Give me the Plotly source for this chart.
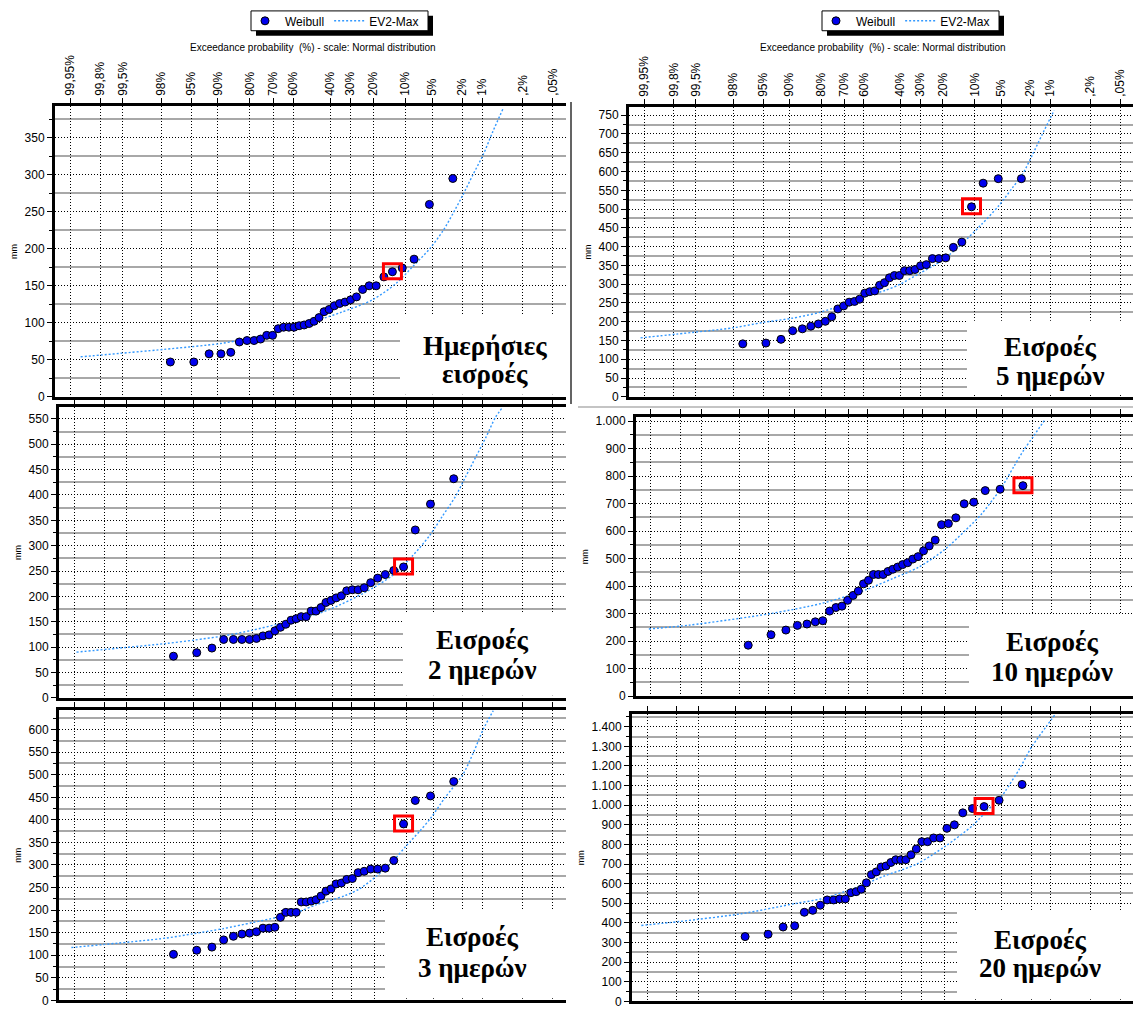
import plotly.graph_objects as go
from statistics import NormalDist

W, H = 1133, 1012
ND = NormalDist()
FONT = "Liberation Sans, Arial, sans-serif"
SERIF = "Liberation Serif, Times New Roman, serif"

# ---------------- data ----------------
EXCEED_TICKS = [99.95, 99.8, 99.5, 98, 95, 90, 80, 70, 60, 40, 30, 20, 10, 5, 2, 1, 0.2, 0.05]
TICK_LABELS = ["99,95%", "99,8%", "99,5%", "98%", "95%", "90%", "80%", "70%", "60%",
               "40%", "30%", "20%", "10%", "5%", "2%", "1%", ",2%", ",05%"]
AXIS_TITLE = "Exceedance probability  (%) - scale: Normal distribution"

# observed maxima (mm), sorted ascending -> Weibull plotting positions
DAILY_MM = [47, 47, 58, 58, 60, 74, 76, 76, 78, 83, 83, 92, 94, 94, 94, 96, 97, 99, 102, 107,
            115, 118, 123, 126, 128, 131, 135, 145, 150, 150, 162, 169, 174, 186, 260, 295]
FIVE_DAY_MM = [141, 143, 153, 176, 181, 188, 194, 201, 213, 234, 242, 252, 254, 260, 276, 280,
               282, 297, 304, 317, 323, 323, 336, 336, 339, 349, 352, 368, 368, 370, 398, 412,
               506, 569, 581, 581]
TWO_DAY_MM = [82, 89, 98, 115, 115, 115, 115, 117, 122, 124, 132, 139, 145, 153, 156, 160, 160,
              171, 171, 178, 188, 192, 197, 201, 211, 213, 213, 217, 227, 236, 243, 251, 258,
              331, 382, 432]
TEN_DAY_MM = [185, 223, 240, 257, 262, 270, 274, 309, 322, 327, 348, 366, 382, 408, 421, 442,
              442, 442, 453, 461, 469, 478, 485, 498, 507, 528, 546, 567, 623, 627, 648, 699,
              705, 747, 752, 765]
THREE_DAY_MM = [102, 111, 118, 134, 142, 147, 149, 152, 160, 160, 162, 184, 195, 195, 195, 218,
                218, 220, 223, 231, 242, 247, 258, 260, 268, 270, 283, 286, 291, 291, 293, 310,
                391, 443, 453, 485]
TWENTY_DAY_MM = [330, 342, 379, 385, 454, 464, 490, 517, 517, 522, 522, 554, 559, 572, 604, 646,
                 660, 685, 690, 708, 722, 722, 722, 747, 777, 814, 814, 833, 833, 882, 900, 961,
                 983, 993, 1025, 1106]

# EV2-Max fitted curves (u = standard normal variate of non-exceedance)
EV2_DAILY_U = [-3.15, -2.02, -1.24, -0.85, -0.50, -0.20, 0.10, 0.40, 0.83, 1.15, 1.38, 1.61, 1.79,
               1.93, 2.06, 2.20, 2.34, 2.47, 2.61]
EV2_DAILY_MM = [54, 64, 72, 79, 87, 95, 104, 114, 131, 153, 176, 200, 224, 248, 272, 300, 327, 358, 389]
EV2_FIVE_U = [-3.34, -2.84, -2.05, -1.65, -1.25, -0.86, -0.51, -0.26, 0.04, 0.23, 0.51, 0.83, 1.15,
              1.38, 1.61, 1.80, 1.94, 2.08, 2.21, 2.38]
EV2_FIVE_MM = [157, 167, 184, 198, 209, 225, 247, 266, 283, 298, 328, 363, 416, 460, 508, 556, 592,
               645, 697, 763]
EV2_TWO_U = [-3.26, -2.82, -2.03, -1.63, -1.24, -0.85, -0.50, -0.21, 0.04, 0.25, 0.71, 1.08, 1.36,
             1.59, 1.77, 1.95, 2.09, 2.23, 2.37, 2.50, 2.60]
EV2_TWO_MM = [90, 96, 107, 114, 122, 133, 145, 155, 165, 176, 208, 241, 280, 319, 358, 397, 436,
              475, 514, 553, 573]
EV2_TEN_U = [-3.32, -2.75, -1.61, -0.91, -0.51, -0.26, 0.09, 0.46, 0.83, 1.11, 1.34, 1.52, 1.61,
             1.80, 1.94, 2.08, 2.24]
EV2_TEN_MM = [244, 258, 300, 336, 366, 388, 426, 468, 533, 600, 660, 720, 751, 835, 895, 947, 1007]
EV2_THREE_U = [-3.33, -2.03, -1.64, -1.24, -0.85, -0.50, -0.23, 0.04, 0.43, 0.63, 0.87, 1.10, 1.27,
               1.46, 1.61, 1.81, 2.05, 2.20, 2.33, 2.47]
EV2_THREE_MM = [117, 138, 148, 159, 172, 184, 195, 212, 232, 247, 276, 310, 342, 375, 404, 450, 500,
                550, 600, 642]
EV2_TWENTY_U = [-3.37, -2.84, -1.99, -1.24, -0.84, -0.34, 0.01, 0.46, 0.86, 1.24, 1.46, 1.61, 1.69,
                1.89, 2.06, 2.26, 2.39]
EV2_TWENTY_MM = [387, 407, 446, 498, 525, 586, 639, 700, 791, 897, 980, 1030, 1070, 1185, 1297,
                 1400, 1464]

PANEL_LABELS = [("Ημερήσιες", "εισροές"), ("Εισροές", "5 ημερών"), ("Εισροές", "2 ημερών"),
                ("Εισροές", "10 ημερών"), ("Εισροές", "3 ημερών"), ("Εισροές", "20 ημερών")]
HIGHLIGHT_RANK = [32, 33, 33, 36, 33, 34]   # 1-based rank of the framed event
SERIES = [DAILY_MM, FIVE_DAY_MM, TWO_DAY_MM, TEN_DAY_MM, THREE_DAY_MM, TWENTY_DAY_MM]
EV2_U = [EV2_DAILY_U, EV2_FIVE_U, EV2_TWO_U, EV2_TEN_U, EV2_THREE_U, EV2_TWENTY_U]
EV2_MM = [EV2_DAILY_MM, EV2_FIVE_MM, EV2_TWO_MM, EV2_TEN_MM, EV2_THREE_MM, EV2_TWENTY_MM]

# ---------------- geometry (pixels) ----------------
GEOM = [
    dict(x0=55, x1=566, yt=104, yb=397.7, ymax=393, dtick=50, box=(400, 315), tx=484.8, ty=(346.7, 375)),
    dict(x0=629, x1=1133, yt=105, yb=397.7, ymax=772, dtick=50, box=(967, 321), tx=1050, ty=(347.3, 376.7)),
    dict(x0=59, x1=566, yt=408.3, yb=701.7, ymax=573, dtick=50, box=(403, 616), tx=482.5, ty=(643, 674)),
    dict(x0=636, x1=1133, yt=418.3, yb=700, ymax=1014, dtick=100, box=(969, 617), tx=1052, ty=(645, 676)),
    dict(x0=59, x1=566, yt=714.3, yb=1007.3, ymax=643, dtick=50, box=(385, 916), tx=472, ty=(943.3, 975)),
    dict(x0=632, x1=1133, yt=718.3, yb=1008.3, ymax=1464, dtick=100, box=(957, 918), tx=1040, ty=(946.7, 975)),
]
XRANGE = [-3.5, 3.47]
LEGEND_BOXES = [(251, 8, 428, 28), (822, 8, 999, 28)]
DOT = "1px,2px"

def px(x):
    return x / W

def py(y):
    return 1 - y / H

tickvals = [ND.inv_cdf(1 - p / 100.0) for p in EXCEED_TICKS]

fig = go.Figure()
layout = {}
shapes = []
annotations = []

for i in range(6):
    g = GEOM[i]
    k = "" if i == 0 else str(i + 1)
    xref, yref = "x" + k, "y" + k
    vals = SERIES[i]
    n = len(vals)
    u = [ND.inv_cdf((r + 1) / (n + 1)) for r in range(n)]
    legend_name = "legend" if i == 0 else ("legend2" if i == 1 else None)

    fig.add_trace(go.Scatter(
        x=EV2_U[i], y=EV2_MM[i], mode="lines", name="EV2-Max",
        line=dict(color="#3399FF", width=1.4, dash="2px,2px", shape="spline", smoothing=0.8),
        xaxis=xref, yaxis=yref, showlegend=legend_name is not None,
        legend=legend_name or "legend", legendrank=2, hoverinfo="skip"))
    fig.add_trace(go.Scatter(
        x=u, y=vals, mode="markers", name="Weibull",
        marker=dict(size=8, color="#0000EE", line=dict(color="black", width=1)),
        xaxis=xref, yaxis=yref, showlegend=legend_name is not None,
        legend=legend_name or "legend", legendrank=1, cliponaxis=False))

    top = i < 2
    layout["xaxis" + k] = dict(
        domain=[px(g["x0"]), px(g["x1"])], range=XRANGE, anchor=yref, side="top",
        tickmode="array", tickvals=tickvals, ticktext=TICK_LABELS, showticklabels=top,
        tickangle=-90, ticks="outside", ticklen=5, tickcolor="black", tickwidth=1,
        tickfont=dict(family=FONT, size=12, color="black"),
        showgrid=True, gridcolor="black", griddash=DOT, gridwidth=1,
        showline=True, linecolor="black", linewidth=2.5, mirror=True, zeroline=False,
        fixedrange=True)
    layout["yaxis" + k] = dict(
        domain=[py(g["yb"]), py(g["yt"])], range=[0, g["ymax"]], anchor=xref,
        tick0=0, dtick=g["dtick"], tickformat=",d",
        ticks="outside", ticklen=5, tickcolor="black",
        tickfont=dict(family=FONT, size=12, color="black"),
        showgrid=True, gridcolor="black", griddash=DOT, gridwidth=1,
        minor=dict(tick0=g["dtick"] / 2, dtick=g["dtick"], showgrid=True, gridcolor="#A8A8A8",
                   gridwidth=2, griddash="solid", ticks="outside", ticklen=3, tickcolor="black"),
        showline=True, linecolor="black", linewidth=3, zeroline=False,
        title=dict(text="mm", font=dict(family=FONT, size=9, color="black"), standoff=6),
        fixedrange=True)

    # framed event
    r = HIGHLIGHT_RANK[i] - 1
    shapes.append(dict(type="rect", xref=xref, yref=yref, xsizemode="pixel", ysizemode="pixel",
                       xanchor=u[r], yanchor=vals[r], x0=-9, x1=9, y0=-7, y1=8,
                       line=dict(color="#FF0000", width=3), layer="above"))
    # white label box
    bx, by = g["box"]
    shapes.append(dict(type="rect", xref="paper", yref="paper", x0=px(bx), x1=px(g["x1"]),
                       y0=py(g["yb"] - 2), y1=py(by), fillcolor="white", line=dict(width=0),
                       layer="above"))
    for line_txt, ty in zip(PANEL_LABELS[i], g["ty"]):
        annotations.append(dict(text="<b>" + line_txt + "</b>", x=px(g["tx"]), y=py(ty),
                                xref="paper", yref="paper", showarrow=False,
                                xanchor="center", yanchor="middle",
                                font=dict(family=SERIF, size=27, color="black")))

# axis titles (top)
for cx in (312.5, 883):
    annotations.append(dict(text=AXIS_TITLE, x=px(cx), y=py(45), xref="paper", yref="paper",
                            showarrow=False, xanchor="center", yanchor="middle",
                            font=dict(family=FONT, size=10, color="black")))

# legend frames with drop shadow
for (lx0, ly0, lx1, ly1) in LEGEND_BOXES:
    shapes.append(dict(type="rect", xref="paper", yref="paper", x0=px(lx0 + 5), x1=px(lx1 + 5),
                       y0=py(ly1 + 5), y1=py(ly0 + 5), fillcolor="black", line=dict(width=0),
                       layer="below"))
    shapes.append(dict(type="rect", xref="paper", yref="paper", x0=px(lx0), x1=px(lx1),
                       y0=py(ly1), y1=py(ly0), fillcolor="white",
                       line=dict(color="black", width=1), layer="below"))

# frame separators
shapes.append(dict(type="line", xref="paper", yref="paper", x0=px(571), x1=px(571),
                   y0=py(100), y1=py(405), line=dict(color="#303030", width=1.5)))
shapes.append(dict(type="line", xref="paper", yref="paper", x0=px(578), x1=px(1133),
                   y0=py(408), y1=py(408), line=dict(color="#B0B0B0", width=1.5)))

leg_common = dict(orientation="h", xanchor="left", yanchor="middle", bgcolor="rgba(0,0,0,0)",
                  borderwidth=0, itemwidth=30,
                  font=dict(family=FONT, size=12, color="black"))
layout["legend"] = dict(x=px(LEGEND_BOXES[0][0] - 6), y=py(18), **leg_common)
layout["legend2"] = dict(x=px(LEGEND_BOXES[1][0] - 6), y=py(18), **leg_common)

fig.update_layout(
    width=W, height=H, margin=dict(l=0, r=0, t=0, b=0),
    paper_bgcolor="white", plot_bgcolor="white",
    separators=",.", font=dict(family=FONT, color="black"),
    shapes=shapes, annotations=annotations, **layout)

fig.write_html("out.html", config={"displayModeBar": False},
               post_script="document.body.style.margin='0px';document.body.style.overflow='hidden';")
